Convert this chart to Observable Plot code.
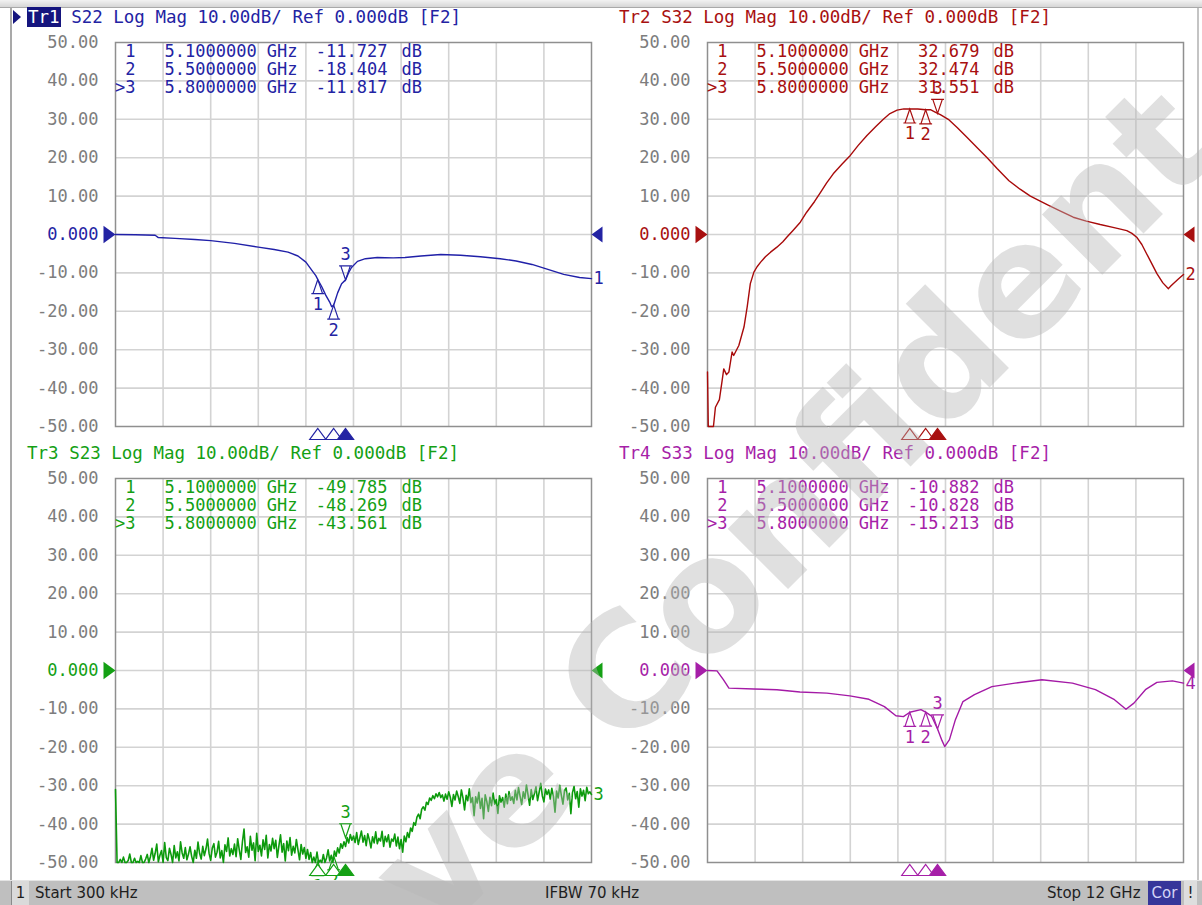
<!DOCTYPE html>
<html>
<head>
<meta charset="utf-8">
<script src="https://cdn.jsdelivr.net/npm/d3@7"></script>
<script src="https://cdn.jsdelivr.net/npm/@observablehq/plot@0.6"></script>
<style>
  html, body { margin: 0; padding: 0; background: #fff; }
  #screen { position: relative; width: 1202px; height: 905px; overflow: hidden; background: #fff; }
  .topband { position: absolute; left: 0; top: 0; width: 1202px; height: 7px; background: linear-gradient(#f2f2f2, #d6d6d6); border-bottom: 1px solid #a9a9a9; }
  .frameL { position: absolute; left: 10px; top: 8px; width: 2px; height: 872px; background: #a9a9a9; }
  .frameR { position: absolute; left: 1197px; top: 8px; width: 2px; height: 872px; background: #c4c4c4; }
  .panel { position: absolute; width: 600px; height: 445px; }
  .panel svg { position: absolute; left: 0; top: 0; overflow: visible; }
  .title { position: absolute; left: 27px; top: 7px; height: 20px; line-height: 20px; font-family: "DejaVu Sans Mono", monospace; font-size: 17.5px; white-space: pre; }
  .title .act { color: #fff; padding: 0 1px; }
  .title .arrow { position: absolute; left: -14px; top: 3px; width: 8px; height: 14px; clip-path: polygon(0 0, 100% 50%, 0 100%); }
  .status { position: absolute; left: 0; top: 880px; width: 1202px; height: 25px; background: #bfbfbf; border-top: 1px solid #e4e4e4; box-sizing: border-box; font-family: "DejaVu Sans", sans-serif; font-size: 15px; color: #1e1e1e; }
  .status div { position: absolute; top: 0; height: 24px; line-height: 24px; white-space: pre; }
  .status .chan { left: 11px; width: 17px; text-align: center; background: #dadada; border-left: 1px solid #8a8a8a; }
  .status .cor { left: 1148px; width: 33px; text-align: center; background: #36369a; color: #d4d4f6; }
  .status .excl { left: 1184px; width: 13px; text-align: center; background: #dedede; }
  #watermark { position: absolute; left: 0; top: 0; pointer-events: none; }
</style>
</head>
<body>
<div id="screen">
  <div class="topband"></div>
  <div class="frameL"></div>
  <div class="frameR"></div>
  <div id="p1" class="panel" style="left:0px;top:0px"></div>
  <div id="p2" class="panel" style="left:592px;top:0px"></div>
  <div id="p3" class="panel" style="left:0px;top:436px"></div>
  <div id="p4" class="panel" style="left:592px;top:436px"></div>
  <div class="status">
    <div class="chan">1</div>
    <div style="left:35px">Start 300 kHz</div>
    <div style="left:545px">IFBW 70 kHz</div>
    <div style="left:1047px">Stop 12 GHz</div>
    <div class="cor">Cor</div>
    <div class="excl">!</div>
  </div>
  <svg id="watermark" width="1202" height="905"></svg>
</div>
<script>
// ---- Sweep and display settings ----
const sweepStartGHz = 0.0003;   // 300 kHz
const sweepStopGHz = 12;
const xGridGHz = [1.2, 2.4, 3.6, 4.8, 6.0, 7.2, 8.4, 9.6, 10.8];
const yTickVals = [50, 40, 30, 20, 10, 0, -10, -20, -30, -40, -50];
const yTickText = ["50.00", "40.00", "30.00", "20.00", "10.00", "0.000", "-10.00", "-20.00", "-30.00", "-40.00", "-50.00"];

// ---- Markers (shared stimulus) ----
const markerFreq = [5.1, 5.5, 5.8];
const markerName = ["1", "2", ">3"];
const markerFreqText = ["5.1000000 GHz", "5.5000000 GHz", "5.8000000 GHz"];
const s22MarkerVal = [-11.727, -18.404, -11.817];
const s32MarkerVal = [32.679, 32.474, 31.551];
const s23MarkerVal = [-49.785, -48.269, -43.561];
const s33MarkerVal = [-10.882, -10.828, -15.213];

// ---- Trace 1: S22 ----
const s22Freq = [0.0003, 0.5, 1.0, 1.08, 1.5, 2.0, 2.4, 3.0, 3.6, 4.0, 4.35, 4.6, 4.8, 4.97, 5.05, 5.1, 5.2, 5.3, 5.4, 5.45, 5.5, 5.6, 5.7, 5.8, 5.88, 5.95, 6.1, 6.3, 6.6, 7.0, 7.3, 7.7, 8.2, 8.7, 9.2, 9.7, 10.1, 10.5, 10.9, 11.3, 11.7, 12.0];
const s22Mag  = [0, -0.05, -0.2, -0.8, -1.0, -1.3, -1.6, -2.3, -3.3, -3.9, -4.6, -5.6, -7.2, -9.6, -10.7, -11.727, -13.6, -15.8, -17.6, -18.8, -18.404, -15.2, -12.8, -11.817, -9.9, -8.6, -7.0, -6.3, -6.0, -6.1, -6.0, -5.6, -5.2, -5.4, -5.8, -6.3, -6.9, -7.8, -9.1, -10.4, -11.2, -11.5];

// ---- Trace 2: S32 ----
const s32Freq = [0.0003, 0.02, 0.15, 0.2, 0.3, 0.37, 0.41, 0.48, 0.54, 0.62, 0.66, 0.79, 0.92, 1.0, 1.08, 1.17, 1.25, 1.34, 1.46, 1.59, 1.75, 1.9, 2.01, 2.15, 2.34, 2.5, 2.7, 2.85, 3.0, 3.17, 3.4, 3.6, 3.8, 4.02, 4.25, 4.44, 4.6, 4.78, 4.95, 5.1, 5.3, 5.5, 5.62, 5.8, 5.87, 6.07, 6.3, 6.54, 6.8, 7.05, 7.3, 7.6, 7.88, 8.14, 8.4, 8.6, 8.9, 9.22, 9.55, 9.9, 10.25, 10.57, 10.7, 10.82, 10.95, 11.07, 11.2, 11.33, 11.48, 11.62, 11.68, 11.74, 11.87, 12.0];
const s32Mag  = [-35.8, -50, -50, -45, -43, -38, -35, -36.5, -35.8, -30.6, -31.5, -28.9, -24.1, -18.9, -12.8, -9.8, -8.4, -7.2, -5.8, -4.6, -3.3, -1.9, -0.6, 1.0, 3.2, 5.8, 8.6, 11, 13.4, 15.8, 18.4, 20.6, 23.2, 25.8, 28.2, 30.1, 31.5, 32.4, 32.7, 32.679, 32.7, 32.474, 32.5, 31.551, 31.2, 30, 27.8, 25.3, 22.6, 20, 17.2, 14, 11.8, 10, 8.6, 7.6, 6.1, 4.5, 3.5, 2.6, 1.8, 1.0, 0.3, -0.7, -2.6, -5.0, -7.6, -10.2, -12.6, -14.1, -13.4, -12.8, -11.6, -10.4];

// ---- Trace 3: S23 (301-point sweep) ----
const s23Mag = [
  -31, -50, -50, -49.2, -50, -48.6, -50, -50, -49.5, -47.8, -50, -50, -48.9, -50, -49.7, -50, -48.2, -50, -50, -49.1, -47.9, -50, -48.5, -46.3, -49.4,
  -47.6, -45.2, -49.8, -48.1, -46.9, -50, -44.8, -48.7, -49.5, -46.3, -47.9, -50, -45.6, -48.8, -47.2, -49.6, -44.6, -47.5, -48.9, -46.1, -49.3, -47.8, -45.9, -48.4, -50,
  -46.8, -48.9, -44.7, -47.6, -49.1, -45.8, -48.2, -46.5, -43.9, -47.7, -49.4, -46.2, -45.1, -48.6, -47.3, -44.5, -48.8, -46.9, -50, -45.4, -47.1, -43.6, -48.3, -46.4, -47.9,
  -45.2, -48.5, -43.8, -46.7, -49.2, -44.6, -41.3, -47.4, -45.9, -48.6, -43.2, -46.8, -44.9, -49.5, -42.4, -47.1, -45.5, -48.3, -44.1, -46.6, -42.9, -48.8, -45.3, -47.0, -43.7,
  -46.4, -44.2, -48.7, -45.6, -42.8, -47.3, -45.1, -49.6, -44.4, -46.9, -43.5, -48.1, -45.8, -47.5, -44.0, -46.7, -49.3, -45.3, -47.8, -46.1, -48.9, -46.6, -49.2, -47.4, -50,
  -48.6, -50, -47.3, -50, -49.4, -50, -47.9, -50, -48.8, -46.7, -49.6, -48.1, -50, -47.0, -48.4, -46.2, -47.5, -45.1, -46.3, -44.6, -45.8, -43.5, -44.9, -42.7, -44.2,
  -43.1, -44.8, -42.2, -45.3, -43.6, -41.8, -44.7, -43.0, -45.6, -42.5, -44.1, -46.2, -43.3, -44.9, -42.0, -45.1, -43.7, -44.4, -41.9, -45.8, -43.2, -44.6, -42.8, -46.0, -43.9,
  -44.5, -42.6, -45.7, -43.4, -46.4, -44.0, -47.3, -43.1, -44.6, -42.2, -43.5, -41.0, -41.9, -39.6, -40.3, -38.2, -37.4, -38.6, -36.1, -35.5, -36.4, -34.3, -34.9, -33.2, -33.8,
  -32.6, -33.4, -32.1, -32.9, -31.8, -33.1, -32.4, -34.0, -32.2, -33.5, -31.6, -33.0, -35.4, -32.3, -33.7, -31.4, -32.8, -34.6, -31.1, -33.2, -36.3, -32.5, -33.9, -30.8, -34.4,
  -33.1, -37.8, -32.9, -34.5, -31.7, -35.9, -33.3, -38.6, -32.4, -34.1, -36.7, -33.0, -35.2, -31.9, -34.8, -33.6, -37.2, -32.6, -34.3, -33.1, -35.6, -32.2, -34.7, -31.5, -33.8,
  -32.9, -34.6, -31.2, -33.7, -30.5, -32.8, -34.9, -31.6, -33.3, -29.8, -32.4, -35.1, -31.0, -33.6, -32.1, -30.3, -33.9, -31.7, -29.4, -32.6, -34.2, -30.9, -32.3, -31.1, -33.5,
  -30.7, -32.8, -36.9, -31.4, -33.2, -29.9, -32.5, -34.8, -31.3, -30.6, -33.7, -32.0, -37.3, -31.8, -30.2, -33.4, -31.5, -35.6, -30.8, -32.7, -31.2, -33.9, -30.4, -32.1, -31.6, -32.3
];
// linear sweep: point i sits at start + i * span / (N - 1)
const s23Freq = s23Mag.map((_, i) => sweepStartGHz + i * (sweepStopGHz - sweepStartGHz) / (s23Mag.length - 1));

// ---- Trace 4: S33 ----
const s33Freq = [0.0003, 0.24, 0.4, 0.54, 1.17, 1.75, 2.33, 3.01, 3.59, 4.07, 4.46, 4.75, 4.94, 5.1, 5.38, 5.5, 5.65, 5.8, 5.91, 5.98, 6.1, 6.25, 6.44, 6.73, 7.17, 7.75, 8.43, 9.2, 9.78, 10.26, 10.55, 10.75, 11.04, 11.33, 11.72, 12.0];
const s33Mag  = [0, -0.1, -2.4, -4.6, -4.8, -5.0, -5.6, -5.9, -6.6, -7.5, -9.4, -11.8, -12.0, -10.882, -10.2, -10.828, -11.9, -15.213, -18.2, -19.8, -18, -12.8, -8.1, -6.3, -4.2, -3.3, -2.4, -3.3, -5.0, -7.6, -10.1, -8.5, -5.0, -3.1, -2.7, -3.3];

// ---- Marker glyphs (apex at the anchor point) ----
const unit = size => Math.sqrt(size / Math.PI);
const markUp = { draw(c, size) { const s = unit(size); c.moveTo(0, 0); c.lineTo(-0.34 * s, s); c.lineTo(0.34 * s, s); c.closePath(); c.moveTo(-0.46 * s, s); c.lineTo(0.46 * s, s); } };
const markDown = { draw(c, size) { const s = unit(size); c.moveTo(0, 0); c.lineTo(-0.34 * s, -s); c.lineTo(0.34 * s, -s); c.closePath(); c.moveTo(-0.46 * s, -s); c.lineTo(0.46 * s, -s); } };
const stimTri = { draw(c, size) { const s = unit(size); c.moveTo(0, 0.15 * s); c.lineTo(-0.62 * s, s); c.lineTo(0.62 * s, s); c.closePath(); } };
const refRight = { draw(c, size) { const s = unit(size); c.moveTo(0, 0); c.lineTo(-s, -0.72 * s); c.lineTo(-s, 0.72 * s); c.closePath(); } };
const refLeft = { draw(c, size) { const s = unit(size); c.moveTo(0, 0); c.lineTo(s, -0.72 * s); c.lineTo(s, 0.72 * s); c.closePath(); } };

const mono = { fontFamily: "DejaVu Sans Mono", fontSize: 17 };

function drawPanel(cfg) {
  const { id, trNo, param, color, traceColor, traceWidth, activeBg, freq, mag, mk } = cfg;
  const host = document.getElementById(id);

  const trace = freq.map((f, i) => ({ f, v: Math.max(-50, Math.min(50, mag[i])) }));
  const ticks = yTickVals.map((v, i) => ({ v, t: yTickText[i] }));
  const rows = markerFreq.map((f, i) => ({ f, v: mk[i], name: markerName[i], ftxt: markerFreqText[i], vtxt: mk[i].toFixed(3), active: i === markerFreq.length - 1 }));
  const passive = rows.filter(d => !d.active);
  const active = rows.filter(d => d.active);
  const last = trace[trace.length - 1];

  const readout = [];
  rows.forEach((r, i) => {
    const base = { frameAnchor: "top-left", lineAnchor: "middle", dy: 9 + 18 * i, fill: color, ...mono };
    readout.push(
      Plot.text([r], { ...base, text: "name", dx: 20, textAnchor: "end" }),
      Plot.text([r], { ...base, text: "ftxt", dx: 49, textAnchor: "start" }),
      Plot.text([r], { ...base, text: "vtxt", dx: 272, textAnchor: "end" }),
      Plot.text([r], { ...base, text: () => "dB", dx: 286, textAnchor: "start" })
    );
  });

  const svg = Plot.plot({
    width: 600, height: 445,
    marginLeft: 115, marginRight: 9, marginTop: 42, marginBottom: 19,
    x: { domain: [sweepStartGHz, sweepStopGHz], axis: null },
    y: { domain: [-50, 50], axis: null },
    style: { background: "transparent", overflow: "visible" },
    marks: [
      Plot.gridX(xGridGHz, { stroke: "#d3d3d3", strokeOpacity: 1, strokeWidth: 1.6 }),
      Plot.gridY(yTickVals.slice(1, -1), { stroke: "#d3d3d3", strokeOpacity: 1, strokeWidth: 1.6 }),
      Plot.frame({ stroke: "#8f8f8f", strokeWidth: 1.5 }),
      Plot.text(ticks, { y: "v", text: "t", frameAnchor: "left", textAnchor: "end", dx: -17, fill: d => d.v === 0 ? color : "#7d7d7d", ...mono }),
      ...readout,
      Plot.line(trace, { x: "f", y: "v", stroke: traceColor, strokeWidth: traceWidth }),
      // on-trace markers
      Plot.dot(passive, { x: "f", y: "v", symbol: markUp, r: 14, stroke: color, fill: "none", strokeWidth: 1.2 }),
      Plot.text(passive, { x: "f", y: "v", text: "name", dy: 25, fill: color, ...mono }),
      Plot.dot(active, { x: "f", y: "v", symbol: markDown, r: 14, stroke: color, fill: "none", strokeWidth: 1.2 }),
      Plot.text(active, { x: "f", y: "v", text: d => d.name.replace(">", ""), dy: -25, fill: color, ...mono }),
      // stimulus markers under the grid
      Plot.dot(rows, { x: "f", frameAnchor: "bottom", symbol: stimTri, r: 13, stroke: color, strokeWidth: 1.2, fill: d => d.active ? color : "white" }),
      // reference level arrows
      Plot.dot([0], { y: d => d, frameAnchor: "left", symbol: refRight, r: 12, fill: color, stroke: "none" }),
      Plot.dot([0], { y: d => d, frameAnchor: "right", symbol: refLeft, r: 11, fill: color, stroke: "none" }),
      // trace number at the end of the sweep
      Plot.text([last], { x: "f", y: "v", text: () => String(trNo), textAnchor: "start", dx: 2, fill: color, ...mono })
    ]
  });
  host.appendChild(svg);

  const title = document.createElement("div");
  title.className = "title";
  title.style.color = color;
  const label = "Tr" + trNo;
  const rest = " " + param + " Log Mag 10.00dB/ Ref 0.000dB [F2]";
  if (activeBg) {
    title.innerHTML = `<span class="arrow" style="background:${activeBg}"></span><span class="act" style="background:${activeBg}">${label}</span>${rest}`;
  } else {
    title.textContent = label + rest;
  }
  host.appendChild(title);
}

drawPanel({ id: "p1", trNo: 1, param: "S22", color: "#2323a3", traceColor: "#2020a8", traceWidth: 1.4, activeBg: "#15157e", freq: s22Freq, mag: s22Mag, mk: s22MarkerVal });
drawPanel({ id: "p2", trNo: 2, param: "S32", color: "#a81010", traceColor: "#a80a0a", traceWidth: 1.4, activeBg: null, freq: s32Freq, mag: s32Mag, mk: s32MarkerVal });
drawPanel({ id: "p3", trNo: 3, param: "S23", color: "#14a014", traceColor: "#0c9a0c", traceWidth: 1.6, activeBg: null, freq: s23Freq, mag: s23Mag, mk: s23MarkerVal });
drawPanel({ id: "p4", trNo: 4, param: "S33", color: "#a61fa8", traceColor: "#a41aa6", traceWidth: 1.4, activeBg: null, freq: s33Freq, mag: s33Mag, mk: s33MarkerVal });

// translucent diagonal watermark over the whole screen
const wm = d3.select("#watermark");
wm.append("text")
  .attr("transform", "translate(437,940) rotate(-45)")
  .attr("font-family", "DejaVu Sans")
  .attr("font-weight", "bold")
  .attr("font-size", 156)
  .attr("fill", "#b8b8b8")
  .attr("fill-opacity", 0.43)
  .text("ve Confident");
</script>
</body>
</html>
